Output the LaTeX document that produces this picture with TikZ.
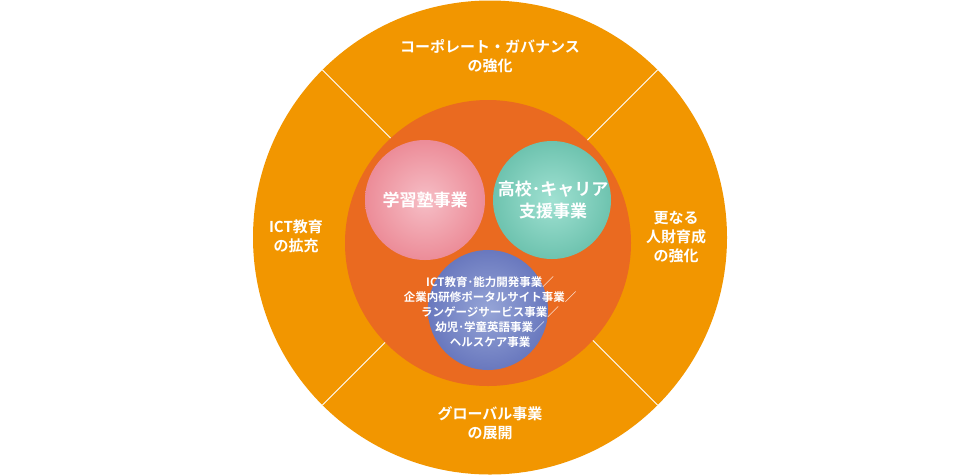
\documentclass[tikz,border=0pt]{standalone}
\usepackage{fontspec}
\newfontfamily\jp{Noto Sans CJK JP Bold}
\begin{document}
\begin{tikzpicture}[x=1pt,y=-1pt,
  lbl/.style={text=white,font=\jp\fontsize{15}{19}\selectfont,align=center},
  big/.style={text=white,font=\jp\fontsize{17}{22}\selectfont,align=center},
  small/.style={text=white,font=\jp\fontsize{11.5}{15}\selectfont,align=center},
  divider/.style={white,line width=1pt}]
\useasboundingbox (0,0) rectangle (980,475);
\fill[fill={rgb,255:red,242;green,150;blue,0}] (490,237.5) circle (237);
\coordinate (c) at (490,237.5);
\foreach \a in {45,135,225,315}
  \draw[divider] (c) -- ++(\a:237);
\fill[fill={rgb,255:red,234;green,106;blue,32}] (488,243) circle (143);
\shade[ball color={rgb,255:red,240;green,155;blue,165},shading=radial,inner color={rgb,255:red,246;green,190;blue,198},outer color={rgb,255:red,236;green,140;blue,152}] (425,200) circle (60);
\shade[inner color={rgb,255:red,160;green,225;blue,210},outer color={rgb,255:red,110;green,195;blue,175}] (552,200) circle (59);
\shade[inner color={rgb,255:red,150;green,165;blue,215},outer color={rgb,255:red,105;green,120;blue,190}] (488,310) circle (60);
\node[lbl] (t) at (490,56) {コーポレート・ガバナンス\\の強化};
\node[lbl] (l) at (296,236) {ICT教育\\の拡充};
\node[lbl] (r) at (676,237) {更なる\\人財育成\\の強化};
\node[lbl] (b) at (490,423) {グローバル事業\\の展開};
\node[big] (p) at (425,200) {学習塾事業};
\node[big] (g) at (553,200) {高校･キャリア\\支援事業};
\node[small] (s) at (490,312) {ICT教育･能力開発事業／\\企業内研修ポータルサイト事業／\\ランゲージサービス事業／\\幼児･学童英語事業／\\ヘルスケア事業};
\end{tikzpicture}
\end{document}
